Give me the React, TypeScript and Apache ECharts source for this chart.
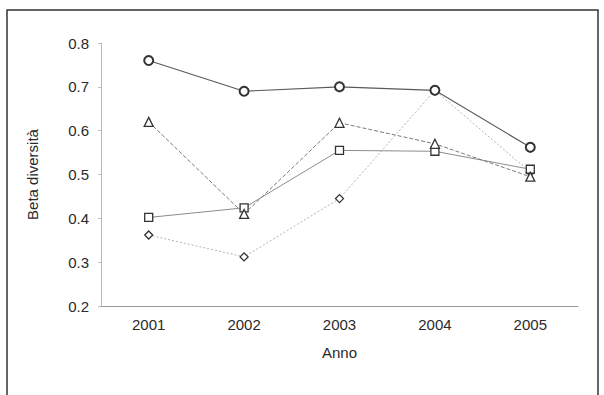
import React, { useEffect, useRef } from "react";
import * as echarts from "echarts";

const years = ["2001", "2002", "2003", "2004", "2005"];
const circleSeries = [0.76, 0.69, 0.7, 0.692, 0.562];
const triangleSeries = [0.62, 0.41, 0.618, 0.57, 0.495];
const squareSeries = [0.402, 0.424, 0.555, 0.553, 0.512];
const diamondSeries = [0.362, 0.312, 0.445, 0.692, 0.505];
const yTicks = [0.2, 0.3, 0.4, 0.5, 0.6, 0.7, 0.8];

const FONT = "Liberation Sans, Arial, sans-serif";

export default function App() {
  const ref = useRef<HTMLDivElement>(null);

  useEffect(() => {
    if (!ref.current) return;
    const chart = echarts.init(ref.current, null, { renderer: "svg" });

    const markerStyle = {
      color: "#ffffff",
      borderColor: "#333333",
      borderWidth: 1.3,
    };

    const line = (
      name: string,
      data: number[],
      symbol: string,
      symbolSize: number,
      lineColor: string,
      lineType: any,
      width: number,
      z: number
    ) => ({
      name,
      type: "line",
      data,
      symbol,
      symbolSize,
      showSymbol: true,
      z,
      itemStyle: markerStyle,
      lineStyle: { color: lineColor, type: lineType, width },
      emphasis: { disabled: true },
    });

    chart.setOption({
      animation: false,
      backgroundColor: "#ffffff",
      textStyle: { fontFamily: FONT },
      grid: { left: 101, top: 43, right: 26, bottom: 89, containLabel: false },
      xAxis: {
        type: "category",
        data: years,
        boundaryGap: true,
        name: "Anno",
        nameLocation: "middle",
        nameGap: 39,
        nameTextStyle: { color: "#2a2a2a", fontSize: 15, fontFamily: FONT },
        axisLine: { show: true, lineStyle: { color: "#999", width: 1 } },
        axisTick: { show: false },
        axisLabel: { color: "#2a2a2a", fontSize: 15, margin: 11, fontFamily: FONT },
        splitLine: { show: false },
      },
      yAxis: {
        type: "value",
        min: yTicks[0],
        max: yTicks[yTicks.length - 1],
        interval: 0.1,
        name: "Beta diversità",
        nameLocation: "middle",
        nameGap: 61,
        nameRotate: 90,
        nameTextStyle: { color: "#2a2a2a", fontSize: 15, fontFamily: FONT },
        axisLine: { show: true, lineStyle: { color: "#bbb", width: 1 } },
        axisTick: { show: true, length: 3, inside: false, lineStyle: { color: "#bbb" } },
        axisLabel: {
          color: "#2a2a2a",
          fontSize: 15,
          margin: 12,
          fontFamily: FONT,
          formatter: (v: number) => v.toFixed(1),
        },
        splitLine: { show: false },
      },
      graphic: [
        {
          type: "rect",
          shape: { x: 7, y: 10, width: 591, height: 400 },
          style: { fill: "none", stroke: "#333", lineWidth: 1.5 },
          silent: true,
        },
      ],
      series: [
        line("diamond", diamondSeries, "diamond", 8, "#b3b3b3", [2, 2], 1, 2),
        line("square", squareSeries, "rect", 8, "#8c8c8c", "solid", 1, 3),
        line("triangle", triangleSeries, "triangle", 9, "#7a7a7a", [4, 2], 1, 4),
        {
          ...line("circle", circleSeries, "circle", 9, "#5a5a5a", "solid", 1.1, 5),
          itemStyle: { color: "#ffffff", borderColor: "#333", borderWidth: 2 },
        },
      ],
    });

    return () => chart.dispose();
  }, []);

  return (
    <div
      ref={ref}
      style={{ position: "absolute", left: 0, top: 0, width: 604, height: 395 }}
    />
  );
}
